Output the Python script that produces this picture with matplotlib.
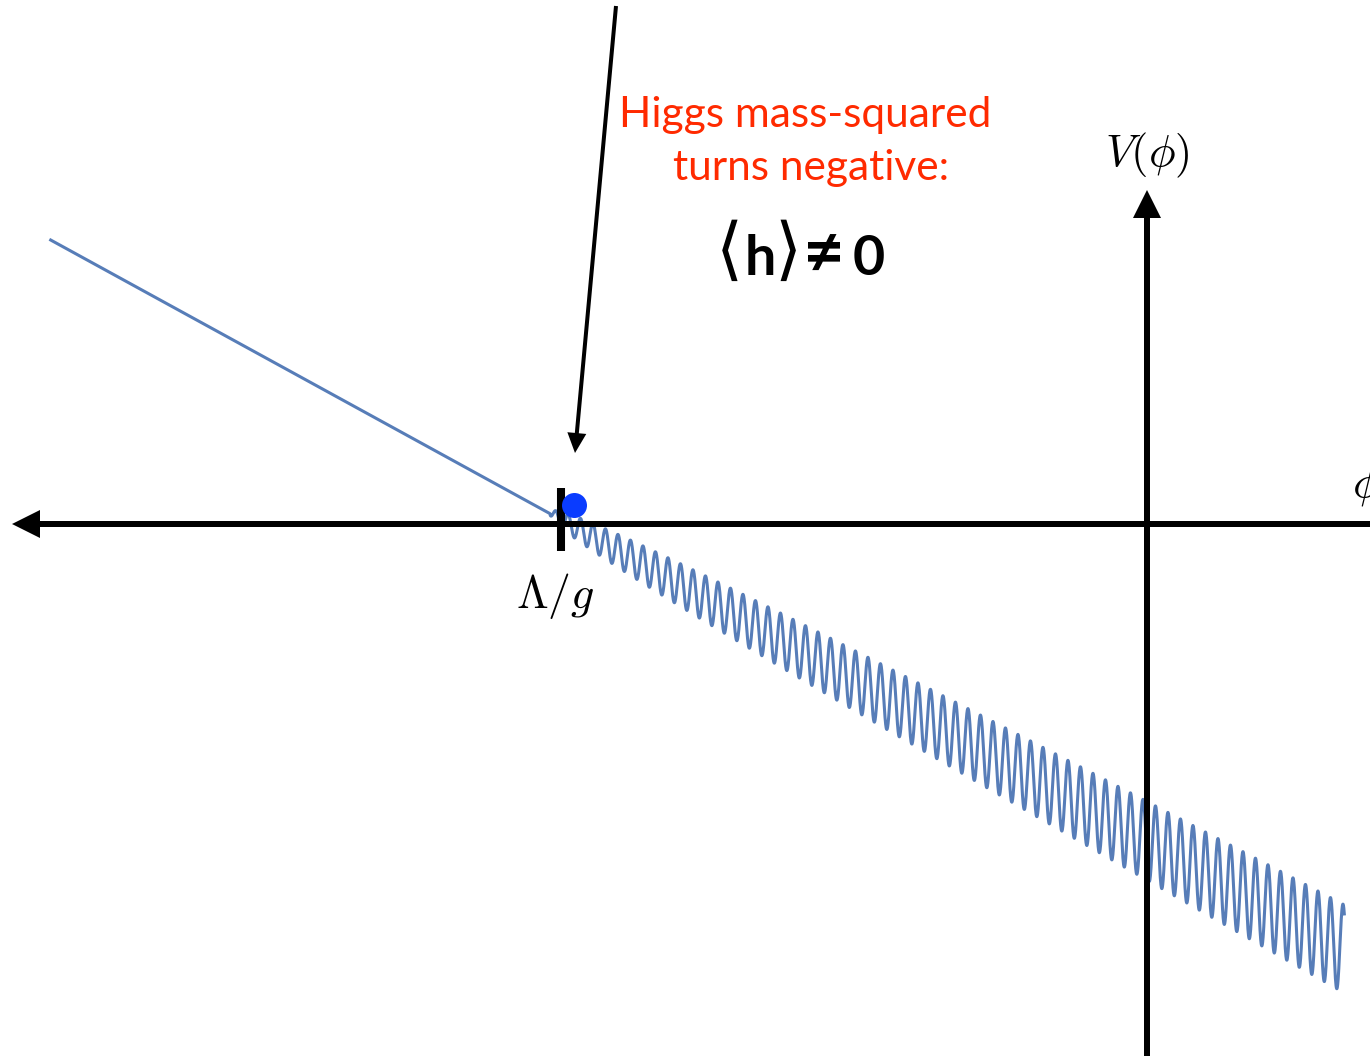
import numpy as np
import matplotlib
matplotlib.use("Agg")
import matplotlib.pyplot as plt

# ---- potential parameters (field units: 1 unit = 100 px) ----
phi_start, phi_end = -10.963, 1.973      # plotted range of phi
slope, offset = -0.548, -3.168           # linear roll: V = slope*phi + offset
phi_c = -5.97                            # where the wiggles switch on
wiggle_amp, wiggle_pow = 0.1925, 0.4     # amplitude ~ (phi - phi_c)^p
wiggle_period, wiggle_peak = 0.125, -5.04

# ---- markers and axes ----
lambda_g = -5.86                         # position of Lambda/g tick
ball_phi, ball_V = -5.73, 0.19           # the relaxion ball
x_left, x_right = -11.35, 2.30           # horizontal axis extent (arrow at left)
y_bottom, y_top = -5.40, 3.34            # vertical axis extent (arrow at top)
pointer_tail = (-5.31, 5.18)
pointer_tip = (-5.72, 0.71)

phi = np.linspace(phi_start, phi_end, 8000)
amp = wiggle_amp * np.clip(phi - phi_c, 0, None) ** wiggle_pow
V = slope * phi + offset + amp * np.cos(2 * np.pi * (phi - wiggle_peak) / wiggle_period)

fig = plt.figure(figsize=(13.7, 10.56), dpi=100)
ax = fig.add_axes([0, 0, 1, 1])
ax.set_xlim(-11.47, 2.23)
ax.set_ylim(-5.32, 5.24)
ax.axis("off")

ax.plot(phi, V, color="#577db8", lw=2.2, zorder=2)

# coordinate axes
ax.arrow(x_right, 0, x_left - x_right, 0, width=0.06, head_width=0.28,
         head_length=0.28, length_includes_head=True, color="black", lw=0, zorder=3)
ax.arrow(0, y_bottom, 0, y_top - y_bottom, width=0.06, head_width=0.28,
         head_length=0.28, length_includes_head=True, color="black", lw=0, zorder=3)

# pointer arrow
ax.arrow(pointer_tail[0], pointer_tail[1], pointer_tip[0] - pointer_tail[0],
         pointer_tip[1] - pointer_tail[1], width=0.04, head_width=0.19,
         head_length=0.2, length_includes_head=True, color="black", lw=0, zorder=3)

# Lambda/g tick and ball
ax.plot([lambda_g, lambda_g], [-0.27, 0.36], color="black", lw=5.8,
        solid_capstyle="butt", zorder=4)
ax.plot([ball_phi], [ball_V], "o", color="#0a3cff", ms=18, mec="none", zorder=5)

# axis labels
ax.text(0, 3.69, r"$V(\phi)$", fontsize=32, math_fontfamily="cm",
        ha="center", va="center", zorder=6)
ax.text(2.05, 0.38, r"$\phi$", fontsize=32, math_fontfamily="cm",
        ha="left", va="center", zorder=6)
ax.text(-5.92, -0.72, r"$\Lambda/g$", fontsize=33, math_fontfamily="cm",
        ha="center", va="center", zorder=6)

# annotation
ax.text(-3.42, 4.09, "Higgs mass-squared", fontsize=30.5, family="Lato",
        color="#ff2a00", ha="center", va="center", zorder=6)
ax.text(-3.36, 3.56, "turns negative:", fontsize=30.5, family="Lato",
        color="#ff2a00", ha="center", va="center", zorder=6)

vev_base = 2.49
bracket_font = ["DejaVu Sans"]
bold_font = ["Lato", "DejaVu Sans"]
ax.text(-4.18, vev_base + 0.03, "\u27e8", fontsize=50, family=bracket_font,
        ha="center", va="baseline", zorder=6)
ax.text(-3.87, vev_base, "h", fontsize=40, family=bold_font, weight="bold",
        ha="center", va="baseline", zorder=6)
ax.text(-3.585, vev_base + 0.03, "\u27e9", fontsize=50, family=bracket_font,
        ha="center", va="baseline", zorder=6)
ax.text(-3.23, vev_base - 0.02, "\u2260", fontsize=52, family=bold_font, weight="bold",
        ha="center", va="baseline", zorder=6)
ax.text(-2.78, vev_base, "0", fontsize=40, family=bold_font, weight="bold",
        ha="center", va="baseline", zorder=6)

fig.savefig("out.png", dpi=100, facecolor="white")
